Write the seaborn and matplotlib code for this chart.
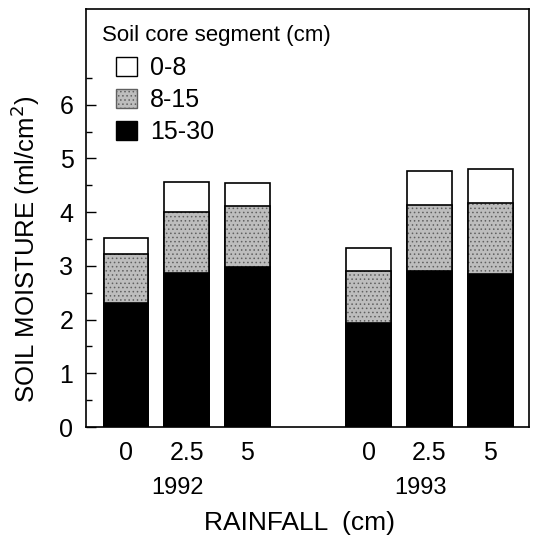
import numpy as np
import pandas as pd
import matplotlib
matplotlib.use("Agg")
import matplotlib.pyplot as plt
import matplotlib.patches as mpatches
import seaborn as sns

# values (ml/cm2), per soil core segment
years = ["1992", "1993"]
rainfall = ["0", "2.5", "5"]
seg_0_8 = [0.30, 0.56, 0.42, 0.43, 0.64, 0.63]
seg_8_15 = [0.91, 1.13, 1.14, 0.96, 1.23, 1.32]
seg_15_30 = [2.31, 2.87, 2.98, 1.94, 2.90, 2.85]
seg_labels = ["0-8", "8-15", "15-30"]

sns.set_style("ticks")
plt.rcParams["font.family"] = ["Liberation Sans", "DejaVu Sans"]
plt.rcParams["hatch.linewidth"] = 0.6
for k in ["text.color", "axes.labelcolor", "xtick.color", "ytick.color", "axes.edgecolor"]:
    plt.rcParams[k] = "black"

# build table, one row per bar; a blank slot separates the two years
keys = [y + "-" + r for y in years for r in rainfall]
order = keys[:3] + ["gap"] + keys[3:]
df = pd.DataFrame({"key": keys,
                   "year": [y for y in years for r in rainfall],
                   "rain": [r for y in years for r in rainfall],
                   "s1": seg_15_30, "s2": seg_8_15, "s3": seg_0_8})
df["top1"] = df["s1"]
df["top2"] = df["s1"] + df["s2"]
df["top3"] = df["top2"] + df["s3"]

fig = plt.figure(figsize=(5.36, 5.37), dpi=100)
ax = fig.add_axes([0.1604, 0.2048, 0.8266, 0.7784])

w = 0.74
# stacked bars drawn from the tallest cumulative height down
sns.barplot(data=df, x="key", y="top3", order=order, color="white",
            edgecolor="black", linewidth=1.2, width=w, ax=ax)
sns.barplot(data=df, x="key", y="top2", order=order, color="#bdbdbd",
            edgecolor="#606060", hatch="....", linewidth=0, width=w, ax=ax)
sns.barplot(data=df, x="key", y="top1", order=order, color="black",
            edgecolor="black", linewidth=1.2, width=w, ax=ax)
sns.barplot(data=df, x="key", y="top2", order=order, fill=False,
            color="black", linewidth=1.2, width=w, ax=ax)

ax.set_xlim(-0.66, 6.64)
ax.set_ylim(0, 7.78)
ax.set_yticks(np.arange(0, 7, 1))
ax.set_yticks(np.arange(0.5, 7.0, 1), minor=True)
ax.tick_params(axis="y", which="major", direction="in", length=7, width=1,
               labelsize=18, pad=9)
ax.tick_params(axis="y", which="minor", direction="in", length=4, width=1)

pos = [order.index(k) for k in keys]
ax.set_xticks(pos)
ax.set_xticklabels(df["rain"])
ax.tick_params(axis="x", length=0, labelsize=18, pad=10)

for i, y in enumerate(years):
    ax.text(pos[i * 3 + 1] - 0.15, -0.146, y, transform=ax.get_xaxis_transform(),
            ha="center", va="center", fontsize=17)

for s in ax.spines.values():
    s.set_visible(True)
    s.set_linewidth(1.2)

ax.set_xlabel("RAINFALL  (cm)", fontsize=19)
ax.xaxis.set_label_coords(0.483, -0.2)
ax.set_ylabel("SOIL MOISTURE (ml/cm$^2$)", fontsize=18.5)
ax.yaxis.set_label_coords(-0.1, 0.426)

handles = [
    mpatches.Patch(facecolor="white", edgecolor="black", linewidth=1.0),
    mpatches.Patch(facecolor="#bdbdbd", edgecolor="#606060", hatch="....", linewidth=1.0),
    mpatches.Patch(facecolor="black", edgecolor="black", linewidth=1.0),
]
leg = ax.legend(handles, seg_labels, title="Soil core segment (cm)",
                loc="upper left", bbox_to_anchor=(0.013, 0.985), frameon=False,
                fontsize=18, title_fontsize=16, alignment="left",
                handlelength=0.84, handleheight=0.8, handletextpad=1.08,
                labelspacing=0.32, borderaxespad=0)
leg._legend_box.sep = 7
for h in leg.legend_handles:
    h.set_x(h.get_x() + 10)

fig.savefig("out.png", dpi=100)
